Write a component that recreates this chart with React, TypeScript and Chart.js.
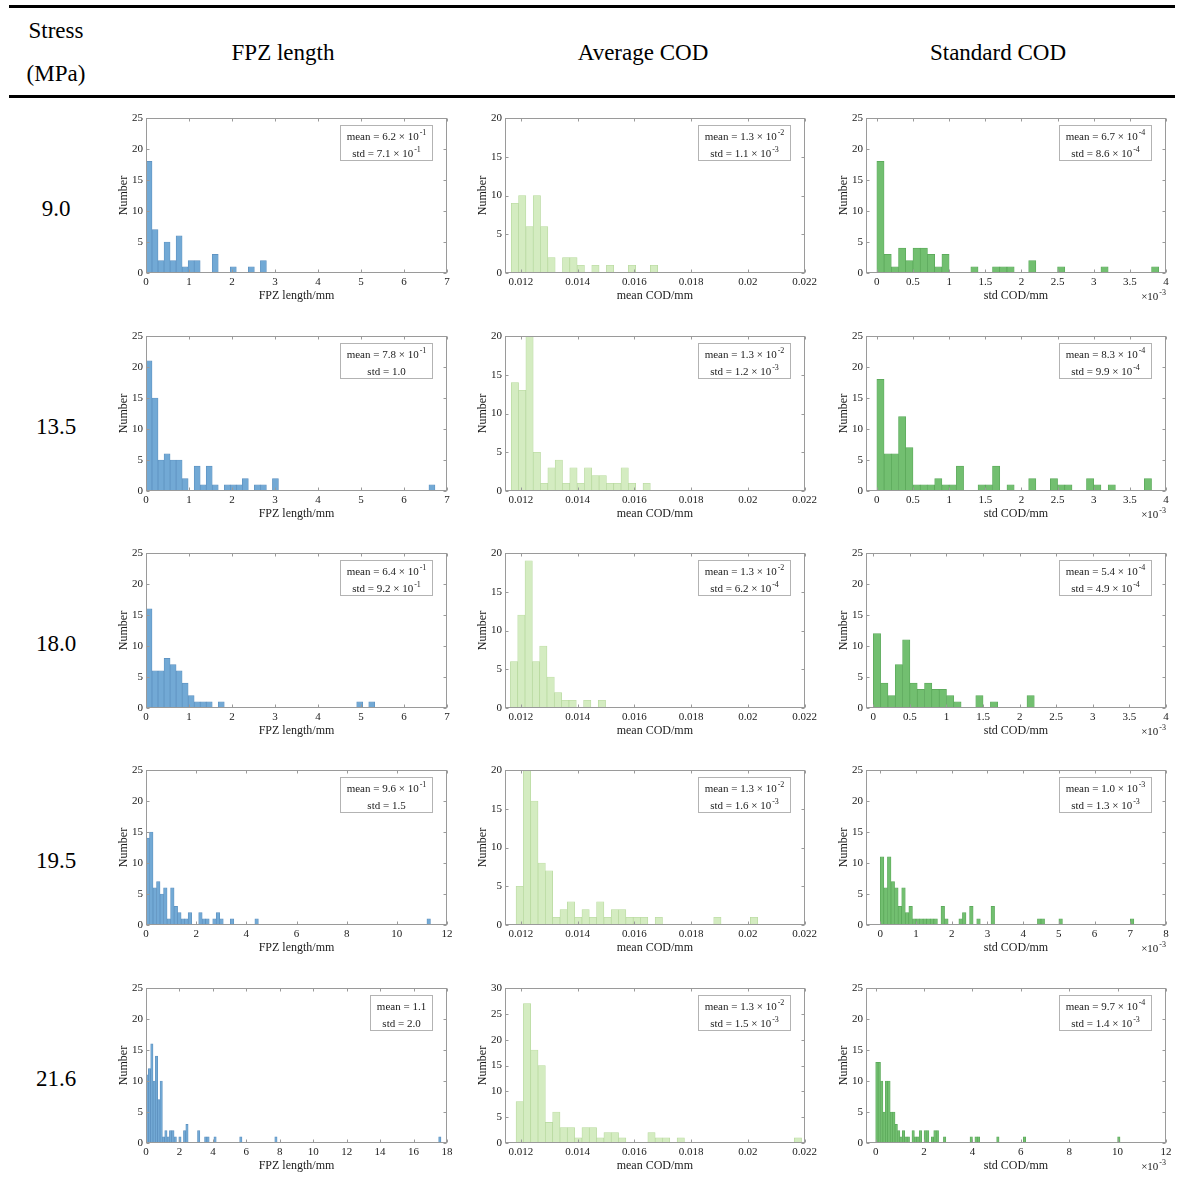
import React, { useEffect, useRef } from "react";
import { Chart, registerables } from "chart.js";

Chart.register(...registerables);

const SERIF = "'Liberation Serif', 'Times New Roman', Times, serif";

// ---------------- table text ----------------
const stressLevels = ["9.0", "13.5", "18.0", "19.5", "21.6"];
const columnTitles = ["FPZ length", "Average COD", "Standard COD"];
const xAxisTitles = ["FPZ length/mm", "mean COD/mm", "std COD/mm"];

// ---------------- FPZ length histograms (mm) ----------------
const fpzBinStart = [0, 0, 0, 0, 0];
const fpzBinWidth = [0.14, 0.14, 0.14, 0.14, 0.14];
const fpzCounts_9_0 = [18, 7, 2, 5, 2, 6, 1, 2, 2, 0, 0, 3, 0, 0, 1, 0, 0, 1, 0, 2];
const fpzCounts_13_5 = [
  21, 15, 5, 6, 5, 5, 2, 0, 4, 1,
  4, 1, 0, 1, 1, 1, 2, 0, 1, 1,
  0, 2, 0, 0, 0, 0, 0, 0, 0, 0,
  0, 0, 0, 0, 0, 0, 0, 0, 0, 0,
  0, 0, 0, 0, 0, 0, 0, 1,
];
const fpzCounts_18_0 = [
  16, 6, 6, 8, 7, 6, 4, 2, 1, 1,
  1, 0, 1, 0, 0, 0, 0, 0, 0, 0,
  0, 0, 0, 0, 0, 0, 0, 0, 0, 0,
  0, 0, 0, 0, 0, 1, 0, 1,
];
const fpzCounts_19_5 = [
  14, 15, 6, 7, 5, 6, 1, 6, 3, 2,
  1, 1, 2, 0, 0, 2, 1, 1, 0, 1,
  2, 1, 0, 0, 1, 0, 0, 0, 0, 0,
  0, 1, 0, 0, 0, 0, 0, 0, 0, 0,
  0, 0, 0, 0, 0, 0, 0, 0, 0, 0,
  0, 0, 0, 0, 0, 0, 0, 0, 0, 0,
  0, 0, 0, 0, 0, 0, 0, 0, 0, 0,
  0, 0, 0, 0, 0, 0, 0, 0, 0, 0,
  1,
];
const fpzCounts_21_6 = [
  11, 12, 16, 10, 14, 7, 10, 1, 2, 1,
  2, 2, 1, 0, 1, 0, 2, 3, 0, 0,
  0, 0, 2, 0, 0, 1, 1, 0, 0, 1,
  0, 0, 0, 0, 0, 0, 0, 0, 0, 0,
  1, 0, 0, 0, 0, 0, 0, 0, 0, 0,
  0, 0, 0, 0, 0, 1, 0, 0, 0, 0,
  0, 0, 0, 0, 0, 0, 0, 0, 0, 0,
  0, 0, 0, 0, 0, 0, 0, 0, 0, 0,
  0, 0, 0, 0, 0, 0, 0, 0, 0, 0,
  0, 0, 0, 0, 0, 0, 0, 0, 0, 0,
  0, 0, 0, 0, 0, 0, 0, 0, 0, 0,
  0, 0, 0, 0, 0, 0, 0, 0, 0, 0,
  0, 0, 0, 0, 0, 1,
];
const fpzXMax = [7, 7, 7, 12, 18];
const fpzTicks7 = [0, 1, 2, 3, 4, 5, 6, 7];
const fpzTicks12 = [0, 2, 4, 6, 8, 10, 12];
const fpzTicks18 = [0, 2, 4, 6, 8, 10, 12, 14, 16, 18];
const fpzMeans = ["6.2e-1", "7.8e-1", "6.4e-1", "9.6e-1", "1.1"];
const fpzStds = ["7.1e-1", "1.0", "9.2e-1", "1.5", "2.0"];

// ---------------- Average COD histograms (mm) ----------------
const codBinStart = [0.01166, 0.01166, 0.01163, 0.01183, 0.01183];
const codBinWidth = [0.000258, 0.000258, 0.000258, 0.000258, 0.000258];
const codCounts_9_0 = [9, 10, 6, 10, 6, 2, 0, 2, 2, 1, 0, 1, 0, 1, 0, 0, 1, 0, 0, 1];
const codCounts_13_5 = [14, 13, 20, 5, 1, 3, 4, 1, 3, 1, 3, 2, 2, 1, 1, 3, 1, 0, 1];
const codCounts_18_0 = [6, 12, 19, 6, 8, 4, 2, 1, 1, 0, 1, 0, 1];
const codCounts_19_5 = [
  5, 20, 16, 8, 7, 1, 2, 3, 1, 2,
  1, 3, 1, 2, 2, 1, 1, 1, 0, 1,
  0, 0, 0, 0, 0, 0, 0, 1, 0, 0,
  0, 0, 1,
];
const codCounts_21_6 = [
  8, 27, 18, 15, 4, 6, 3, 3, 1, 3,
  3, 1, 2, 2, 1, 0, 0, 0, 2, 1,
  1, 0, 1, 0, 0, 0, 0, 0, 0, 0,
  0, 0, 0, 0, 0, 0, 0, 0, 1,
];
const codXMin = 0.01144;
const codXMax = 0.022;
const codTicks = [0.012, 0.014, 0.016, 0.018, 0.02, 0.022];
const codTickLabels = ["0.012", "0.014", "0.016", "0.018", "0.02", "0.022"];
const codYMax = [20, 20, 20, 20, 30];
const codMeans = ["1.3e-2", "1.3e-2", "1.3e-2", "1.3e-2", "1.3e-2"];
const codStds = ["1.1e-3", "1.2e-3", "6.2e-4", "1.6e-3", "1.5e-3"];

// ---------------- Standard COD histograms (mm) ----------------
const sdBinStart = [0, 0, 0, 0, 0];
const sdBinWidth = [0.0001, 0.0001, 0.0001, 0.0001, 0.0001];
const sdCounts_9_0 = [
  18, 3, 1, 4, 2, 4, 4, 3, 1, 3,
  0, 0, 0, 1, 0, 0, 1, 1, 1, 0,
  0, 2, 0, 0, 0, 1, 0, 0, 0, 0,
  0, 1, 0, 0, 0, 0, 0, 0, 1,
];
const sdCounts_13_5 = [
  18, 6, 6, 12, 7, 1, 1, 1, 2, 1,
  1, 4, 0, 0, 1, 1, 4, 0, 1, 0,
  0, 2, 0, 0, 2, 1, 1, 0, 0, 2,
  1, 0, 1, 0, 0, 0, 0, 2,
];
const sdCounts_18_0 = [
  12, 4, 2, 7, 11, 4, 3, 4, 3, 3,
  2, 1, 0, 0, 2, 0, 1, 0, 0, 0,
  0, 2,
];
const sdCounts_19_5 = [
  11, 6, 11, 7, 6, 3, 6, 2, 3, 1,
  1, 1, 1, 1, 1, 1, 0, 3, 1, 0,
  0, 0, 1, 2, 0, 3, 0, 1, 0, 0,
  0, 3, 0, 0, 0, 0, 0, 0, 0, 0,
  0, 0, 0, 0, 1, 1, 0, 0, 0, 0,
  1, 0, 0, 0, 0, 0, 0, 0, 0, 0,
  0, 0, 0, 0, 0, 0, 0, 0, 0, 0,
  1,
];
const sdCounts_21_6 = [
  13, 13, 10, 5, 10, 10, 5, 5, 3, 2,
  1, 2, 1, 1, 0, 2, 1, 1, 2, 0,
  2, 2, 0, 1, 2, 2, 0, 0, 1, 0,
  0, 0, 0, 0, 0, 0, 0, 0, 0, 1,
  0, 1, 1, 0, 0, 0, 0, 0, 0, 0,
  1, 0, 0, 0, 0, 0, 0, 0, 0, 0,
  0, 1, 0, 0, 0, 0, 0, 0, 0, 0,
  0, 0, 0, 0, 0, 0, 0, 0, 0, 0,
  0, 0, 0, 0, 0, 0, 0, 0, 0, 0,
  0, 0, 0, 0, 0, 0, 0, 0, 0, 0,
  1,
];
const sdXMin = [-0.00015, -0.00015, -0.0001, -0.0004, -0.0004];
const sdXMax = [0.004, 0.004, 0.004, 0.008, 0.012];
const sdTicks4 = [0, 0.0005, 0.001, 0.0015, 0.002, 0.0025, 0.003, 0.0035, 0.004];
const sdTickLabels4 = ["0", "0.5", "1", "1.5", "2", "2.5", "3", "3.5", "4"];
const sdTicks8 = [0, 0.001, 0.002, 0.003, 0.004, 0.005, 0.006, 0.007, 0.008];
const sdTickLabels8 = ["0", "1", "2", "3", "4", "5", "6", "7", "8"];
const sdTicks12 = [0, 0.002, 0.004, 0.006, 0.008, 0.01, 0.012];
const sdTickLabels12 = ["0", "2", "4", "6", "8", "10", "12"];
const sdMeans = ["6.7e-4", "8.3e-4", "5.4e-4", "1.0e-3", "9.7e-4"];
const sdStds = ["8.6e-4", "9.9e-4", "4.9e-4", "1.3e-3", "1.4e-3"];
const sdMultiplierExp = "-3";

const yTicks20 = [0, 5, 10, 15, 20];
const yTicks25 = [0, 5, 10, 15, 20, 25];
const yTicks30 = [0, 5, 10, 15, 20, 25, 30];

// ---------------- colours ----------------
const fpzFill = "#72a9d5";
const fpzEdge = "#5b8fbe";
const codFill = "#d4ecc1";
const codEdge = "#b6d89d";
const sdFill = "#72bf70";
const sdEdge = "#58a657";

// ---------------- layout ----------------
const colPlotLeft = [146, 505, 866];
const colPlotWidth = [301, 303, 300];
const rowPlotTop = [118, 336, 553, 770, 988];
const PLOT_H = 155;
const AXIS_W = 40;
const AXIS_H = 42;
const PAD_T = 10;
const PAD_R = 12;

type Spec = {
  counts: number[];
  start: number;
  width: number;
  xMin: number;
  xMax: number;
  xTicks: number[];
  xTickLabels: string[];
  yMax: number;
  yTicks: number[];
  fill: string;
  edge: string;
  xTitle: string;
  mean: string;
  std: string;
  multiplierExp?: string;
};

const fpzCounts = [fpzCounts_9_0, fpzCounts_13_5, fpzCounts_18_0, fpzCounts_19_5, fpzCounts_21_6];
const codCounts = [codCounts_9_0, codCounts_13_5, codCounts_18_0, codCounts_19_5, codCounts_21_6];
const sdCounts = [sdCounts_9_0, sdCounts_13_5, sdCounts_18_0, sdCounts_19_5, sdCounts_21_6];

function buildSpecs(): Spec[][] {
  return stressLevels.map((_, r) => {
    const fTicks = fpzXMax[r] === 7 ? fpzTicks7 : fpzXMax[r] === 12 ? fpzTicks12 : fpzTicks18;
    const sTicks = sdXMax[r] === 0.004 ? sdTicks4 : sdXMax[r] === 0.008 ? sdTicks8 : sdTicks12;
    const sLabels = sdXMax[r] === 0.004 ? sdTickLabels4 : sdXMax[r] === 0.008 ? sdTickLabels8 : sdTickLabels12;
    const fpz: Spec = {
      counts: fpzCounts[r], start: fpzBinStart[r], width: fpzBinWidth[r],
      xMin: 0, xMax: fpzXMax[r], xTicks: fTicks, xTickLabels: fTicks.map(String),
      yMax: 25, yTicks: yTicks25, fill: fpzFill, edge: fpzEdge, xTitle: xAxisTitles[0],
      mean: fpzMeans[r], std: fpzStds[r],
    };
    const cod: Spec = {
      counts: codCounts[r], start: codBinStart[r], width: codBinWidth[r],
      xMin: codXMin, xMax: codXMax, xTicks: codTicks, xTickLabels: codTickLabels,
      yMax: codYMax[r], yTicks: codYMax[r] === 30 ? yTicks30 : yTicks20,
      fill: codFill, edge: codEdge, xTitle: xAxisTitles[1], mean: codMeans[r], std: codStds[r],
    };
    const sd: Spec = {
      counts: sdCounts[r], start: sdBinStart[r], width: sdBinWidth[r],
      xMin: sdXMin[r], xMax: sdXMax[r], xTicks: sTicks, xTickLabels: sLabels,
      yMax: 25, yTicks: yTicks25, fill: sdFill, edge: sdEdge, xTitle: xAxisTitles[2],
      mean: sdMeans[r], std: sdStds[r], multiplierExp: sdMultiplierExp,
    };
    return [fpz, cod, sd];
  });
}

function splitSci(s: string): [string, string | null] {
  const i = s.indexOf("e");
  if (i < 0) return [s, null];
  return [s.slice(0, i), s.slice(i + 1)];
}

function HistogramChart({ spec, left, top, plotW }: { spec: Spec; left: number; top: number; plotW: number }) {
  const ref = useRef<HTMLCanvasElement | null>(null);
  const W = plotW + AXIS_W + PAD_R;
  const H = PLOT_H + PAD_T + AXIS_H;

  useEffect(() => {
    const canvas = ref.current;
    if (!canvas) return;
    const points = spec.counts.map((c, i) => ({ x: spec.start + (i + 0.5) * spec.width, y: c }));

    const framePlugin = {
      id: "frame",
      afterDraw(chart: any) {
        const ctx: CanvasRenderingContext2D = chart.ctx;
        const area = chart.chartArea;
        const l = Math.round(area.left) + 0.5;
        const r = Math.round(area.right) - 0.5;
        const t = Math.round(area.top) + 0.5;
        const b = Math.round(area.bottom) - 0.5;
        const xs = chart.scales.x;
        const ys = chart.scales.y;
        ctx.save();
        ctx.strokeStyle = "#9a9a9a";
        ctx.lineWidth = 1;
        ctx.strokeRect(l, t, r - l, b - t);
        const TL = 3;
        ctx.beginPath();
        xs.ticks.forEach((tk: any) => {
          const px = Math.round(xs.getPixelForValue(tk.value)) + 0.5;
          ctx.moveTo(px, b);
          ctx.lineTo(px, b - TL);
          ctx.moveTo(px, t);
          ctx.lineTo(px, t + TL);
        });
        ys.ticks.forEach((tk: any) => {
          const py = Math.round(ys.getPixelForValue(tk.value)) + 0.5;
          ctx.moveTo(l, py);
          ctx.lineTo(l + TL, py);
          ctx.moveTo(r, py);
          ctx.lineTo(r - TL, py);
        });
        ctx.stroke();

        // statistics box
        const mainFont = `11px ${SERIF}`;
        const supFont = `8px ${SERIF}`;
        const lines = [
          ["mean", spec.mean],
          ["std", spec.std],
        ].map(([lab, val]) => {
          const [base, exp] = splitSci(val);
          const main = exp === null ? `${lab} = ${base}` : `${lab} = ${base} \u00d7 10`;
          ctx.font = mainFont;
          const mw = ctx.measureText(main).width;
          ctx.font = supFont;
          const sw = exp === null ? 0 : ctx.measureText(exp).width + 1;
          return { main, exp, mw, sw, w: mw + sw };
        });
        const boxW = Math.ceil(Math.max(...lines.map((ln) => ln.w)) + 12);
        const boxH = 35;
        const bx = Math.round(area.right - 15 - boxW) + 0.5;
        const by = Math.round(area.top + 7) + 0.5;
        ctx.fillStyle = "#ffffff";
        ctx.fillRect(bx, by, boxW, boxH);
        ctx.strokeStyle = "#b3b3b3";
        ctx.strokeRect(bx, by, boxW, boxH);
        ctx.fillStyle = "#1a1a1a";
        ctx.textBaseline = "alphabetic";
        ctx.textAlign = "left";
        lines.forEach((ln, i) => {
          const base = by + 14 + i * 17;
          const sx = bx + (boxW - ln.w) / 2;
          ctx.font = mainFont;
          ctx.fillText(ln.main, sx, base);
          if (ln.exp !== null) {
            ctx.font = supFont;
            ctx.fillText(ln.exp, sx + ln.mw + 1, base - 5);
          }
        });

        // axis multiplier
        if (spec.multiplierExp) {
          ctx.font = supFont;
          const ew = ctx.measureText(spec.multiplierExp).width;
          ctx.font = mainFont;
          const mt = "\u00d710";
          const mw = ctx.measureText(mt).width;
          const ex = area.right - ew;
          const base = area.bottom + 27;
          ctx.fillText(mt, ex - mw - 1, base);
          ctx.font = supFont;
          ctx.fillText(spec.multiplierExp, ex, base - 5);
        }
        ctx.restore();
      },
    };

    const tickFont = { size: 11, family: SERIF };
    const titleFont = { size: 12, family: SERIF };

    const chart = new Chart(canvas, {
      type: "bar",
      data: {
        datasets: [
          {
            data: points as any,
            backgroundColor: spec.fill,
            borderColor: spec.edge,
            borderWidth: 0.7,
            barPercentage: 1,
            categoryPercentage: 1,
          },
        ],
      },
      options: {
        animation: false,
        responsive: false,
        maintainAspectRatio: false,
        events: [],
        layout: { padding: { left: 0, top: PAD_T, right: PAD_R, bottom: 0 } },
        plugins: { legend: { display: false }, tooltip: { enabled: false } },
        scales: {
          x: {
            type: "linear",
            min: spec.xMin,
            max: spec.xMax,
            offset: false,
            grid: { display: false, drawTicks: false },
            border: { display: false },
            afterBuildTicks: (s: any) => {
              s.ticks = spec.xTicks.map((v) => ({ value: v }));
            },
            afterFit: (s: any) => {
              s.height = AXIS_H;
            },
            ticks: {
              padding: 3,
              color: "#1a1a1a",
              font: tickFont,
              autoSkip: false,
              maxRotation: 0,
              minRotation: 0,
              callback: (_v: any, i: number) => spec.xTickLabels[i],
            },
            title: {
              display: true,
              text: spec.xTitle,
              color: "#1a1a1a",
              font: titleFont,
              padding: { top: 0, bottom: 11.8 },
            },
          },
          y: {
            type: "linear",
            min: 0,
            max: spec.yMax,
            grid: { display: false, drawTicks: false },
            border: { display: false },
            afterBuildTicks: (s: any) => {
              s.ticks = spec.yTicks.map((v) => ({ value: v }));
            },
            afterFit: (s: any) => {
              s.width = AXIS_W;
            },
            ticks: {
              padding: 3,
              color: "#1a1a1a",
              font: tickFont,
              autoSkip: false,
              callback: (v: any) => String(v),
            },
            title: {
              display: true,
              text: "Number",
              color: "#1a1a1a",
              font: titleFont,
              padding: { top: 10.8, bottom: 0 },
            },
          },
        },
      },
      plugins: [framePlugin],
    } as any);
    return () => chart.destroy();
  }, [spec]);

  return (
    <canvas
      ref={ref}
      width={W}
      height={H}
      style={{ position: "absolute", left, top, width: W, height: H, display: "block" }}
    />
  );
}

const specs = buildSpecs();

function CenterText({ x, y, text, size }: { x: number; y: number; text: string; size: number }) {
  return (
    <div
      style={{
        position: "absolute",
        left: x,
        top: y,
        transform: "translate(-50%, -50%)",
        fontFamily: SERIF,
        fontSize: size,
        lineHeight: 1,
        whiteSpace: "nowrap",
        color: "#000",
      }}
    >
      {text}
    </div>
  );
}

export default function App() {
  const headerX = [283, 643, 998];
  return (
    <div
      style={{
        position: "absolute",
        left: 0,
        top: 0,
        width: 1178,
        height: 1185,
        background: "#fff",
        overflow: "hidden",
      }}
    >
      <div style={{ position: "absolute", left: 9, top: 5, width: 1166, height: 3, background: "#000" }} />
      <div style={{ position: "absolute", left: 9, top: 95, width: 1166, height: 3, background: "#000" }} />
      <CenterText x={56} y={30} text="Stress" size={23} />
      <CenterText x={56} y={73} text="(MPa)" size={23} />
      {columnTitles.map((t, i) => (
        <CenterText key={t} x={headerX[i]} y={52} text={t} size={23} />
      ))}
      {stressLevels.map((s, r) => (
        <CenterText key={s} x={56} y={rowPlotTop[r] + 90} text={s} size={23} />
      ))}
      {specs.map((row, r) =>
        row.map((spec, c) => (
          <HistogramChart
            key={`${r}-${c}`}
            spec={spec}
            left={colPlotLeft[c] - AXIS_W}
            top={rowPlotTop[r] - PAD_T}
            plotW={colPlotWidth[c]}
          />
        ))
      )}
    </div>
  );
}
